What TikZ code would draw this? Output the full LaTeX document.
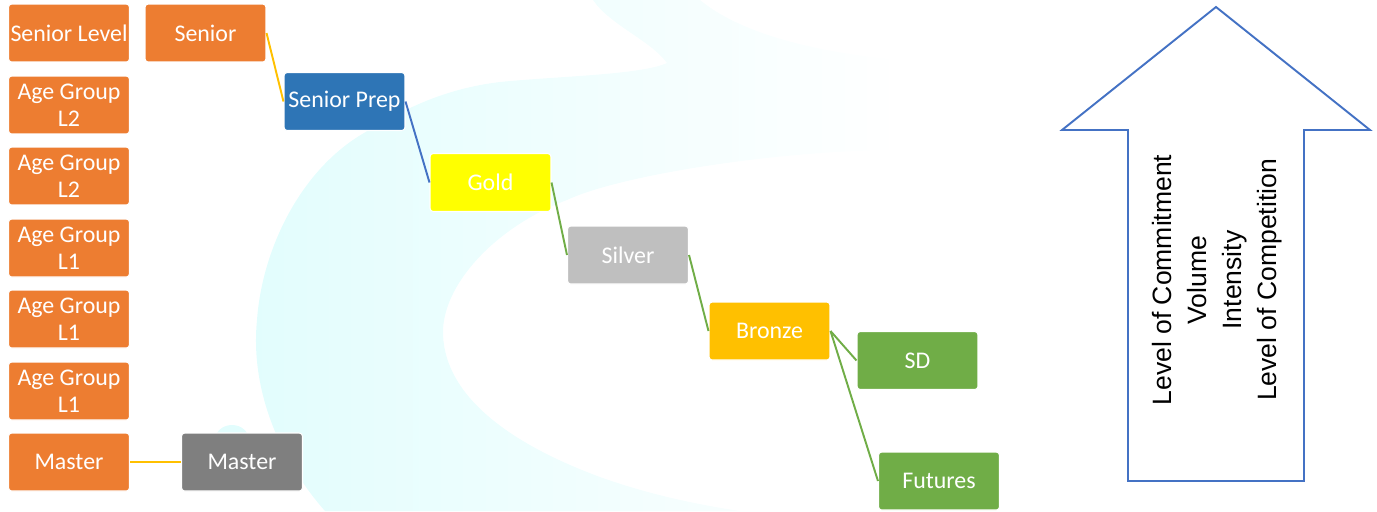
\documentclass[tikz,border=0pt]{standalone}
\usepackage{fontspec}
\setmainfont{Carlito}
\newfontfamily\arialfont{Liberation Sans}
\usepackage{tikz}
\usetikzlibrary{calc, positioning}
\tikzset{>=stealth}
\definecolor{boxorange}{HTML}{ED7D31}
\definecolor{boxblue}{HTML}{2E75B6}
\definecolor{boxgold}{HTML}{FFFF00}
\definecolor{boxsilver}{HTML}{BFBFBF}
\definecolor{boxbronze}{HTML}{FFC000}
\definecolor{boxgreen}{HTML}{70AD47}
\definecolor{boxgrey}{HTML}{7F7F7F}
\definecolor{linkblue}{HTML}{4472C4}
\definecolor{swoosh}{HTML}{E2FDFD}
\tikzset{
	box/.style={draw=white, line width=0.6pt, rounded corners=1.8pt, text=white,
		minimum width=2.42cm, minimum height=1.16cm, inner sep=1pt, align=center,
		font=\fontsize{13.6}{15.4}\selectfont},
	link/.style={line width=1.1pt}
}

\begin{document}
\begin{tikzpicture}[x=0.02cm, y=-0.02cm]
			\useasboundingbox (0,0) rectangle (1377,511);
			\shade[left color=swoosh, middle color=swoosh, right color=white]
				(593,0) -- (700,0) .. controls (730,25) and (790,50) .. (900,60) -- (900,150)
				.. controls (780,150) and (620,175) .. (567,200)
				.. controls (500,225) and (445,280) .. (443,330)
				.. controls (442,390) and (500,440) .. (600,477)
				.. controls (650,495) and (700,505) .. (740,511) -- (325,511)
				.. controls (280,460) and (250,390) .. (257,320)
				.. controls (262,250) and (300,170) .. (364,133)
				.. controls (410,105) and (450,88) .. (500,82)
				.. controls (560,76) and (640,75) .. (667,63)
				.. controls (650,40) and (610,25) .. (593,0) -- cycle;
			\fill[swoosh] (232,440) ellipse [x radius=17, y radius=15];
			\node[box, fill=boxorange] (seniorlevel) at (69,33) {Senior Level};
			\node[box, fill=boxorange] (agetwoa) at (69,105) {Age Group\\L2};
			\node[box, fill=boxorange] (agetwob) at (69,176) {Age Group\\L2};
			\node[box, fill=boxorange] (ageonea) at (69,248) {Age Group\\L1};
			\node[box, fill=boxorange] (ageoneb) at (69,319) {Age Group\\L1};
			\node[box, fill=boxorange] (ageonec) at (69,391) {Age Group\\L1};
			\node[box, fill=boxorange] (masterlevel) at (69,462) {Master};
			\node[box, fill=boxorange] (senior) at (205.5,33) {Senior};
			\node[box, fill=boxblue] (seniorprep) at (344.5,101.5) {Senior Prep};
			\node[box, fill=boxgold] (gold) at (490.5,182.5) {Gold};
			\node[box, fill=boxsilver] (silver) at (628,255) {Silver};
			\node[box, fill=boxbronze] (bronze) at (769.5,331) {Bronze};
			\node[box, fill=boxgreen] (sd) at (917.5,360.5) {SD};
			\node[box, fill=boxgreen] (futures) at (939,481) {Futures};
			\node[box, fill=boxgrey] (master) at (242,462) {Master};
			\draw[link, boxbronze] (senior.east) -- (seniorprep.west);
			\draw[link, linkblue] (seniorprep.east) -- (gold.west);
			\draw[link, boxgreen] (gold.east) -- (silver.west);
			\draw[link, boxgreen] (silver.east) -- (bronze.west);
			\draw[link, boxgreen] (bronze.east) -- (sd.west);
			\draw[link, boxgreen] (bronze.east) -- (futures.west);
			\draw[link, boxbronze] (masterlevel.east) -- (master.west);
			\draw[link, linkblue, line join=miter] (1128,481) -- (1128,130) -- (1062,130) -- (1216,7)
				-- (1370,130) -- (1304,130) -- (1304,481) -- cycle;
			\node[rotate=90, inner sep=0pt, align=center, font=\arialfont\fontsize{15.1}{20}\selectfont]
				(measures) at (1217,280) {Level of Commitment\\Volume\\Intensity\\Level of Competition};
		\end{tikzpicture}
\end{document}
